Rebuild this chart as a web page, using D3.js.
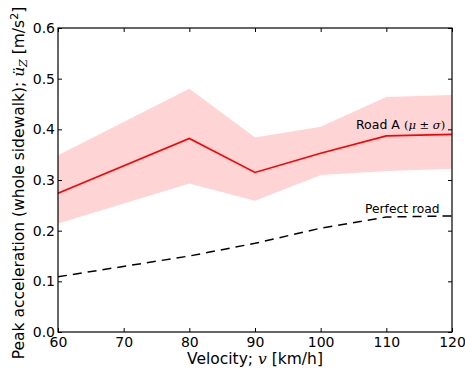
<!DOCTYPE html>
<html>
<head>
<meta charset="utf-8">
<script src="https://cdn.jsdelivr.net/npm/d3@7"></script>
<style>
  html, body { margin: 0; padding: 0; background: #fff; }
  svg text { font-family: "DejaVu Sans", sans-serif; }
</style>
</head>
<body>
<svg id="chart" width="465" height="374"></svg>
<script>
// Velocities [km/h]
const velocities = [60, 80, 90, 100, 110, 120];
// Road A peak acceleration: mean and mean ± sigma [m/s²]
const roadMean  = [0.274, 0.382, 0.315, 0.353, 0.387, 0.390];
const roadUpper = [0.349, 0.480, 0.384, 0.405, 0.464, 0.468];
const roadLower = [0.214, 0.293, 0.259, 0.310, 0.318, 0.322];
// Perfect road reference
const perfectRoad = [0.109, 0.150, 0.175, 0.205, 0.227, 0.229];
// Tick values
const xTicks = [60, 70, 80, 90, 100, 110, 120];
const yTicks = [0.0, 0.1, 0.2, 0.3, 0.4, 0.5, 0.6];

const svg = d3.select("#chart");
const L = 58, R = 452, T = 28, B = 332;

const x = d3.scaleLinear().domain([60, 120]).range([L, R]);
const y = d3.scaleLinear().domain([0, 0.6]).range([B, T]);

const band = velocities.map((v, i) => ({ v, lo: roadLower[i], hi: roadUpper[i] }));
svg.append("path")
  .datum(band)
  .attr("fill", "rgb(255,212,212)")
  .attr("d", d3.area().x(d => x(d.v)).y0(d => y(d.lo)).y1(d => y(d.hi)));

const line = d3.line().x(d => x(d[0])).y(d => y(d[1]));

svg.append("path")
  .datum(velocities.map((v, i) => [v, roadMean[i]]))
  .attr("fill", "none").attr("stroke", "#ff0000").attr("stroke-width", 1.6)
  .attr("d", line);

svg.append("path")
  .datum(velocities.map((v, i) => [v, perfectRoad[i]]))
  .attr("fill", "none").attr("stroke", "#000").attr("stroke-width", 1.5)
  .attr("stroke-dasharray", "9,6")
  .attr("d", line);

// Axes with inward ticks on all four sides
const tickLen = 4;
const fmtY = d3.format(".1f");
svg.append("g").attr("transform", `translate(0,${B})`)
  .call(d3.axisBottom(x).tickValues(xTicks).tickSize(-tickLen).tickPadding(5))
  .call(g => g.select(".domain").remove());
svg.append("g").attr("transform", `translate(0,${T})`)
  .call(d3.axisTop(x).tickValues(xTicks).tickSize(-tickLen).tickFormat(""))
  .call(g => g.select(".domain").remove());
svg.append("g").attr("transform", `translate(${L},0)`)
  .call(d3.axisLeft(y).tickValues(yTicks).tickSize(-tickLen).tickPadding(3).tickFormat(fmtY))
  .call(g => g.select(".domain").remove());
svg.append("g").attr("transform", `translate(${R},0)`)
  .call(d3.axisRight(y).tickValues(yTicks).tickSize(-tickLen).tickFormat(""))
  .call(g => g.select(".domain").remove());

svg.selectAll(".tick text")
  .attr("font-family", "DejaVu Sans, sans-serif")
  .attr("font-size", 14).attr("fill", "#000");
svg.selectAll(".tick line").attr("stroke", "#000").attr("stroke-width", 1);

svg.append("rect")
  .attr("x", L).attr("y", T).attr("width", R - L).attr("height", B - T)
  .attr("fill", "none").attr("stroke", "#000").attr("stroke-width", 1.2);

// Axis titles
const xl = svg.append("text")
  .attr("x", (L + R) / 2).attr("y", 364)
  .attr("text-anchor", "middle").attr("font-size", 15.5);
xl.append("tspan").text("Velocity; ");
xl.append("tspan").attr("font-family", "DejaVu Serif, serif").attr("font-style", "italic").text("v");
xl.append("tspan").text(" [km/h]");

const yl = svg.append("text")
  .attr("transform", `translate(24,${(T + B) / 2 + 3}) rotate(-90)`)
  .attr("text-anchor", "middle").attr("font-size", 15.5);
yl.append("tspan").text("Peak acceleration (whole sidewalk); ");
yl.append("tspan").attr("font-family", "DejaVu Serif, serif").attr("font-style", "italic").text("ü");
yl.append("tspan").attr("font-family", "DejaVu Serif, serif").attr("font-style", "italic")
  .attr("font-size", 11).attr("dy", 3).text("Z");
yl.append("tspan").attr("dy", -3).text(" [m/s");
yl.append("tspan").attr("font-size", 11).attr("dy", -6).text("2");
yl.append("tspan").attr("dy", 6).text("]");

// Series labels
const ra = svg.append("text")
  .attr("x", 356).attr("y", 129).attr("font-size", 12.5);
ra.append("tspan").text("Road A ");
const mathFont = "DejaVu Serif, serif";
ra.append("tspan").attr("font-family", mathFont).attr("font-size", 11.5).text("(");
ra.append("tspan").attr("font-family", mathFont).attr("font-style", "italic").attr("font-size", 11.5).text("μ");
ra.append("tspan").attr("font-family", mathFont).attr("font-size", 11.5).text(" ± ");
ra.append("tspan").attr("font-family", mathFont).attr("font-style", "italic").attr("font-size", 11.5).text("σ");
ra.append("tspan").attr("font-family", mathFont).attr("font-size", 11.5).text(")");

svg.append("text")
  .attr("x", 365).attr("y", 213).attr("font-size", 12.3)
  .text("Perfect road");
</script>
</body>
</html>
